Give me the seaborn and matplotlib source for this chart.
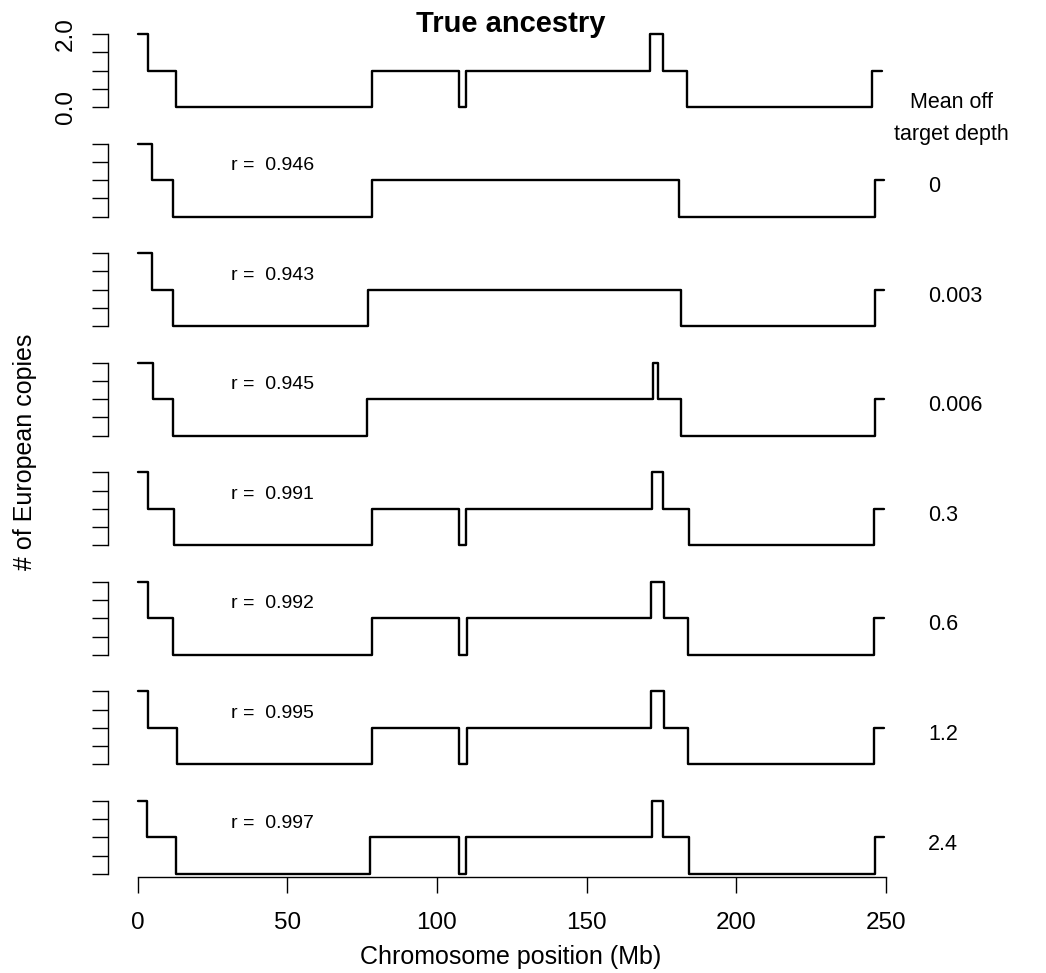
import numpy as np
import pandas as pd
import seaborn as sns
import matplotlib
matplotlib.use("Agg")
import matplotlib.pyplot as plt

# --- DATA: step breakpoints (Mb) and # of European copies ---
true_pos = [0.2, 3.3, 12.8, 78.2, 107.5, 109.6, 171.2, 175.7, 183.5, 245.3, 248.7]
true_copies = [2, 1, 0, 1, 0, 1, 2, 1, 0, 1, 1]

d0_pos = [0, 4.7, 11.9, 78.4, 181.0, 246.4, 249.5]
d0_copies = [2, 1, 0, 1, 0, 1, 1]

d0003_pos = [0, 4.7, 11.9, 77.0, 181.6, 246.4, 249.5]
d0003_copies = [2, 1, 0, 1, 0, 1, 1]

d0006_pos = [0, 5.1, 11.9, 76.5, 172.3, 173.8, 181.6, 246.4, 249.5]
d0006_copies = [2, 1, 0, 1, 2, 1, 0, 1, 1]

d03_pos = [0, 3.5, 12.2, 78.4, 107.4, 109.7, 172.0, 175.7, 184.3, 246.2, 249.5]
d03_copies = [2, 1, 0, 1, 0, 1, 2, 1, 0, 1, 1]

d06_pos = [0, 3.5, 11.9, 78.4, 107.5, 110.0, 171.6, 175.9, 183.8, 246.2, 249.5]
d06_copies = [2, 1, 0, 1, 0, 1, 2, 1, 0, 1, 1]

d12_pos = [0, 3.5, 13.0, 78.4, 107.5, 110.0, 171.6, 175.9, 183.8, 246.2, 249.5]
d12_copies = [2, 1, 0, 1, 0, 1, 2, 1, 0, 1, 1]

d24_pos = [0, 3.1, 12.7, 77.7, 107.3, 109.8, 171.9, 175.6, 184.2, 246.3, 249.4]
d24_copies = [2, 1, 0, 1, 0, 1, 2, 1, 0, 1, 1]

depth_labels = ["0", "0.003", "0.006", "0.3", "0.6", "1.2", "2.4"]
r_values = [0.946, 0.943, 0.945, 0.991, 0.992, 0.995, 0.997]
x_ticks = [0, 50, 100, 150, 200, 250]

panel_names = ["truth"] + depth_labels
panel_pos = [true_pos, d0_pos, d0003_pos, d0006_pos, d03_pos, d06_pos, d12_pos, d24_pos]
panel_copies = [true_copies, d0_copies, d0003_copies, d0006_copies,
                d03_copies, d06_copies, d12_copies, d24_copies]

frames = []
for name, pos, cop in zip(panel_names, panel_pos, panel_copies):
    frames.append(pd.DataFrame({"panel": name, "pos": pos, "copies": cop}))
df = pd.concat(frames, ignore_index=True)

# --- STYLE ---
sns.set_theme(style="white")
plt.rcParams["font.family"] = ["Liberation Sans", "DejaVu Sans"]
plt.rcParams["text.color"] = "black"
plt.rcParams["axes.labelcolor"] = "black"
plt.rcParams["xtick.color"] = "black"
plt.rcParams["ytick.color"] = "black"

W, H = 1046, 973
fig = plt.figure(figsize=(W / 100, H / 100), dpi=100)

# pixel layout (R-like mfrow stack)
x0_px, mb_px = 137.7, 2.992          # pixel of 0 Mb, pixels per Mb
xlim = (-9.98, 259.5)
ax_left = x0_px + xlim[0] * mb_px
ax_width = (xlim[1] - xlim[0]) * mb_px
unit_px = 36.5                        # pixels per copy
ylim = (-0.08, 2.08)

def fx(px):
    return px / W

def fy(px):
    return 1 - px / H

axes = []
for i, name in enumerate(panel_names):
    base = 107 + 109.57 * i
    bottom_px = base - ylim[0] * unit_px
    height_px = (ylim[1] - ylim[0]) * unit_px
    ax = fig.add_axes([fx(ax_left), fy(bottom_px), ax_width / W, height_px / H])
    sub = df[df["panel"] == name]
    sns.lineplot(data=sub, x="pos", y="copies", ax=ax, color="black",
                 linewidth=1.7, drawstyle="steps-post", estimator=None, sort=False)
    ax.set_xlim(*xlim)
    ax.set_ylim(*ylim)
    ax.set(xlabel="", ylabel="")
    for s in ["top", "right", "bottom"]:
        ax.spines[s].set_visible(False)
    ax.spines["left"].set_bounds(0, 2)
    ax.spines["left"].set_color("black")
    ax.spines["left"].set_linewidth(1.0)
    ax.set_yticks([0, 0.5, 1, 1.5, 2])
    ax.tick_params(axis="y", direction="out", length=11.5, width=1.0, color="black",
                   labelcolor="black", left=True, labelleft=(i == 0),
                   labelsize=17.5, pad=11, labelrotation=90)
    if i == 0:
        ax.set_yticklabels(["0.0", "", "", "", "2.0"], va="center")
    ax.tick_params(axis="x", bottom=False, labelbottom=False)
    if i > 0:
        ax.text(45, 1.27, f"r =  {r_values[i - 1]:.3f}", ha="center",
                va="baseline", fontsize=14)
        ax.text((928 - x0_px) / mb_px, 0.67, depth_labels[i - 1], ha="left",
                va="baseline", fontsize=15.5, clip_on=False)
    axes.append(ax)

# bottom axis
axb = axes[-1]
axb.spines["bottom"].set_visible(True)
axb.spines["bottom"].set_bounds(0, 250)
axb.spines["bottom"].set_color("black")
axb.spines["bottom"].set_linewidth(1.0)
axb.set_xticks(x_ticks)
axb.tick_params(axis="x", bottom=True, labelbottom=True, direction="out",
                length=11.5, width=1.0, color="black", labelcolor="black",
                labelsize=17.5, pad=13.5)

# texts
fig.text(fx(511), fy(32), "True ancestry", ha="center", va="baseline",
         fontsize=21, fontweight="bold")
fig.text(fx(511), fy(957), "Chromosome position (Mb)", ha="center", va="center",
         fontsize=18)
fig.text(fx(25), fy(452), "# of European copies", ha="center", va="center",
         rotation=90, fontsize=18)
fig.text(fx(951), fy(107.5), "Mean off", ha="center", va="baseline", fontsize=15.5)
fig.text(fx(951), fy(140), "target depth", ha="center", va="baseline", fontsize=15.5)

fig.savefig("out.png", dpi=100)
